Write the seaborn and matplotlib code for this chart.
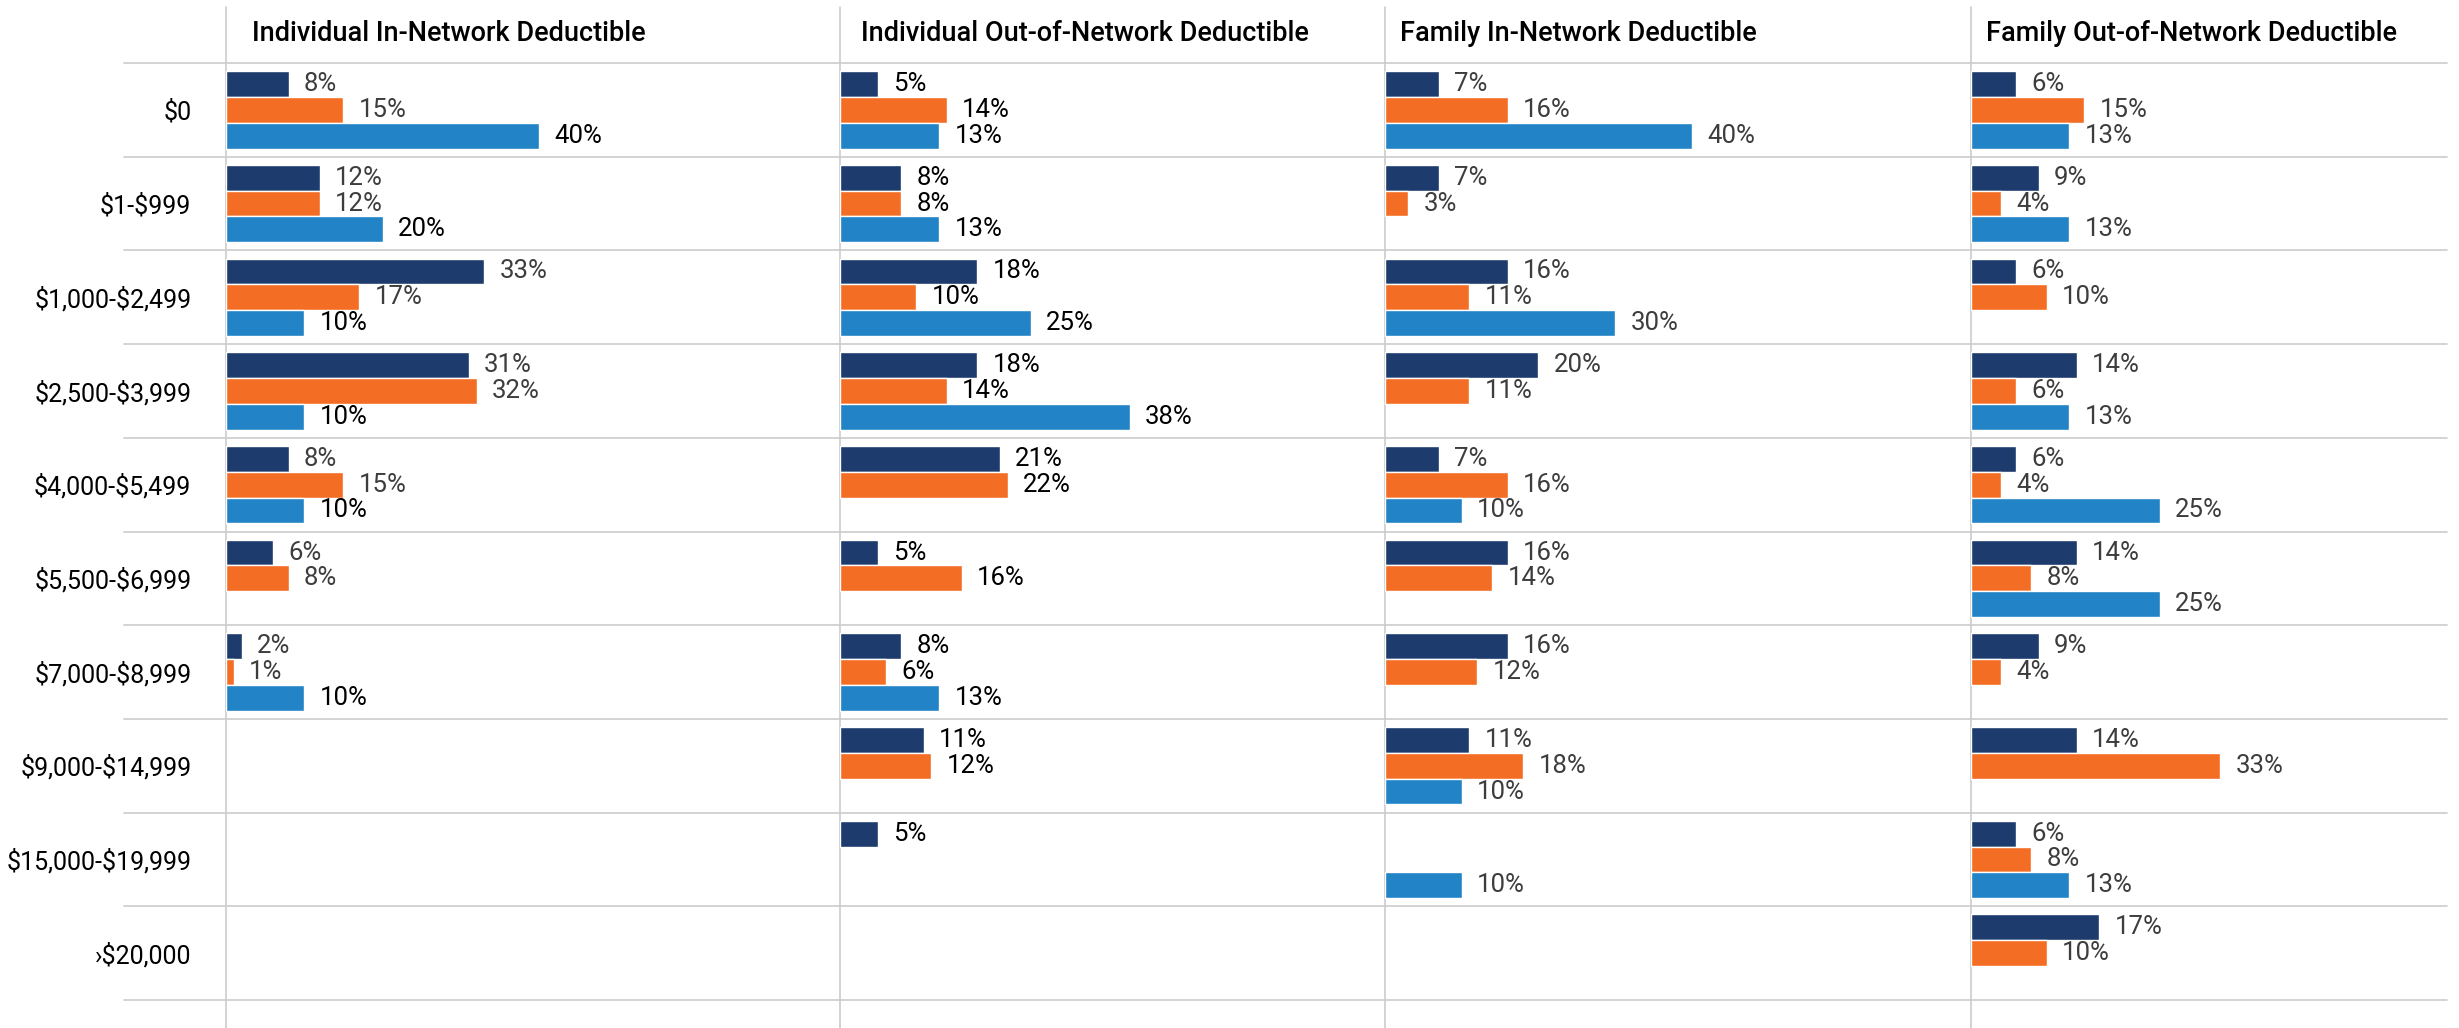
import numpy as np
import pandas as pd
import seaborn as sns
import matplotlib.pyplot as plt

sns.set_theme(style="white")
plt.rcParams["font.family"] = ["Roboto", "DejaVu Sans"]
plt.rcParams["text.parse_math"] = False  # dollar signs are plain text here

# data (nan = no bar shown)
nan = np.nan
brackets = ["$0", "$1-$999", "$1,000-$2,499", "$2,500-$3,999", "$4,000-$5,499",
            "$5,500-$6,999", "$7,000-$8,999", "$9,000-$14,999", "$15,000-$19,999", "›$20,000"]
series = ["Series 1", "Series 2", "Series 3"]
colors = ["#1d3b6c", "#f36d24", "#2284c6"]
titles = ["Individual In-Network Deductible", "Individual Out-of-Network Deductible",
          "Family In-Network Deductible", "Family Out-of-Network Deductible"]

ind_in_s1 = [8, 12, 33, 31, 8, 6, 2, nan, nan, nan]
ind_in_s2 = [15, 12, 17, 32, 15, 8, 1, nan, nan, nan]
ind_in_s3 = [40, 20, 10, 10, 10, nan, 10, nan, nan, nan]

ind_out_s1 = [5, 8, 18, 18, 21, 5, 8, 11, 5, nan]
ind_out_s2 = [14, 8, 10, 14, 22, 16, 6, 12, nan, nan]
ind_out_s3 = [13, 13, 25, 38, nan, nan, 13, nan, nan, nan]

fam_in_s1 = [7, 7, 16, 20, 7, 16, 16, 11, nan, nan]
fam_in_s2 = [16, 3, 11, 11, 16, 14, 12, 18, nan, nan]
fam_in_s3 = [40, nan, 30, nan, 10, nan, nan, 10, 10, nan]

fam_out_s1 = [6, 9, 6, 14, 6, 14, 9, 14, 6, 17]
fam_out_s2 = [15, 4, 10, 6, 4, 8, 4, 33, 8, 10]
fam_out_s3 = [13, 13, nan, 13, 25, 25, nan, nan, 13, nan]

panels = [
    (ind_in_s1, ind_in_s2, ind_in_s3),
    (ind_out_s1, ind_out_s2, ind_out_s3),
    (fam_in_s1, fam_in_s2, fam_in_s3),
    (fam_out_s1, fam_out_s2, fam_out_s3),
]

# label text colour per panel / series
gray, black = "#3d3d3d", "#000000"
label_colors = [
    [gray, gray, black],
    [black, black, black],
    [gray, gray, gray],
    [gray, gray, gray],
]

# layout in pixels (figure is 2459 x 1028)
W, H = 2459, 1028
lefts = [226, 840, 1385, 1971]
rights = [840, 1385, 1971, 2447]
px_per_pct = [7.83, 7.62, 7.67, 7.55]
title_dx = [26, 21, 15, 15]
top_px, bot_px = 63, 1000
ax_h = bot_px - top_px
line_col = "#cccccc"

fig = plt.figure(figsize=(W / 100, H / 100), dpi=100)

for i, (vals, title) in enumerate(zip(panels, titles)):
    width_px = rights[i] - lefts[i]
    ax = fig.add_axes([lefts[i] / W, 1 - bot_px / H, width_px / W, ax_h / H])

    df = pd.DataFrame({
        "bracket": brackets * 3,
        "plan": np.repeat(series, len(brackets)),
        "pct": np.concatenate(vals),
    }).dropna()

    sns.barplot(data=df, y="bracket", x="pct", hue="plan", order=brackets,
                hue_order=series, palette=colors, orient="y", width=0.825,
                saturation=1, errorbar=None, legend=False, ax=ax)

    for cont, col in zip(ax.containers, label_colors[i]):
        ax.bar_label(cont, fmt=lambda v: f"{v:.0f}%", padding=11,
                     fontsize=18.5, color=col)

    ax.set_xlim(0, width_px / px_per_pct[i])
    ax.set_ylim(len(brackets) - 0.5, -0.5)
    ax.set_xlabel("")
    ax.set_ylabel("")
    ax.set_xticks([])
    for s in ax.spines.values():
        s.set_visible(False)

    if i == 0:
        ax.tick_params(axis="y", length=0, pad=25, labelsize=18, labelcolor="black")
        xmin = -(lefts[0] - 124) / width_px
    else:
        ax.set_yticks([])
        xmin = 0

    for b in np.arange(-0.5, len(brackets), 1.0):
        ax.axhline(b, xmin=xmin, xmax=1, color=line_col, lw=1.2, clip_on=False, zorder=0)
    ax.axvline(0, ymin=-(H - bot_px) / ax_h, ymax=1 + (top_px - 7) / ax_h,
               color=line_col, lw=1.2, clip_on=False, zorder=0)

    ax.text(title_dx[i] / width_px, 1 + (top_px - 41) / ax_h, title,
            transform=ax.transAxes, ha="left", va="baseline",
            fontsize=19.5, fontweight="medium", color="black")

fig.savefig("out.png", dpi=100)
